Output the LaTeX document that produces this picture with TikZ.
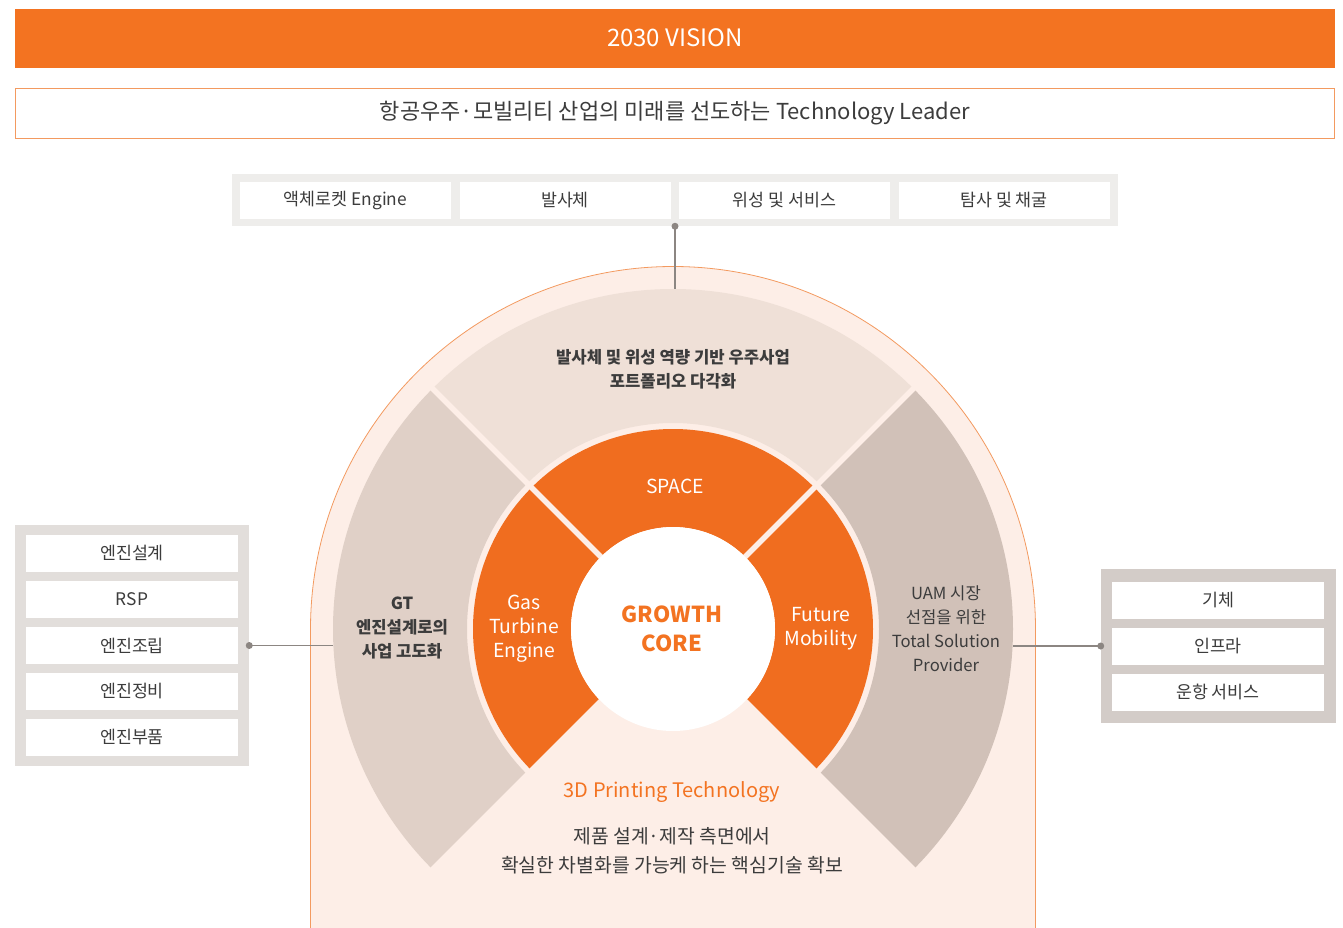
\documentclass[tikz,border=0pt]{standalone}
\usepackage{fontspec}
\setmainfont{Noto Sans CJK KR}
\usetikzlibrary{positioning}

\definecolor{visionorange}{HTML}{F37321}
\definecolor{ringorange}{HTML}{F06D1F}
\definecolor{archfill}{HTML}{FDEEE7}
\definecolor{archline}{HTML}{F39A60}
\definecolor{topbeige}{HTML}{EFE0D7}
\definecolor{leftbeige}{HTML}{E0D0C7}
\definecolor{rightbeige}{HTML}{D1C1B8}
\definecolor{boxgray}{HTML}{EEEDEB}
\definecolor{leftgray}{HTML}{E2DEDB}
\definecolor{rightgray}{HTML}{D3CCC8}
\definecolor{textgray}{HTML}{3C3C3C}
\definecolor{linkgray}{HTML}{8C8682}

\tikzset{
  cell/.style={fill=white, minimum width=159pt, minimum height=27.75pt, inner sep=0pt,
    text=textgray, font=\fontsize{13}{15}\selectfont},
  link/.style={draw=linkgray, line width=0.8pt},
  sectortext/.style={align=center, text=textgray, font=\fontsize{12.5}{18}\selectfont\bfseries},
  ringtext/.style={align=center, text=white, font=\fontsize{14.5}{18}\selectfont},
}

\begin{document}
\begin{tikzpicture}[x=0.75pt,y=-0.75pt]
 \useasboundingbox (0,0) rectangle (1343,928);

 % title bars
 \node[fill=visionorange, minimum width=990pt, minimum height=44.25pt, text=white,
   font=\fontsize{18}{22}\selectfont] (header) at (675,38) {2030 VISION};
 \node[draw=archline, line width=0.75pt, fill=white, minimum width=989pt, minimum height=37.5pt,
   text=textgray, font=\fontsize{16.5}{20}\selectfont] (leader) at (675,113.5)
   {항공우주·모빌리티 산업의 미래를 선도하는 Technology Leader};

 % arch
 \filldraw[fill=archfill, draw=archline, line width=0.6pt]
   (310.5,928) -- (310.5,629) arc[start angle=180, end angle=360, radius=362.5] -- (1035.5,928);

 \begin{scope}[shift={(673,629)}]
  \foreach \col/\from/\to in {topbeige/-135/-45, leftbeige/135/225, rightbeige/-45/45}
   \fill[\col] (\from:340) arc[start angle=\from, end angle=\to, radius=340]
     -- (\to:206) arc[start angle=\to, end angle=\from, radius=206] -- cycle;
  \foreach \from/\to in {-135/-45, 135/225, -45/45}
   \fill[ringorange] (\from:200) arc[start angle=\from, end angle=\to, radius=200]
     -- (\to:102) arc[start angle=\to, end angle=\from, radius=102] -- cycle;
  \foreach \angle in {45,135,225,315}
   \draw[archfill, line width=4pt] (\angle:100) -- (\angle:342);
  \fill[white] (0,0) circle[radius=102];
 \end{scope}

 % ring texts
 \node[sectortext] (spaceplan) at (673,369) {발사체 및 위성 역량 기반 우주사업\\포트폴리오 다각화};
 \node[sectortext] (gtplan) at (402,628) {GT\\엔진설계로의\\사업 고도화};
 \node[align=center, text=textgray, font=\fontsize{12.5}{18}\selectfont] (uamplan) at (946,628.5)
   {UAM 시장\\선점을 위한\\Total Solution\\Provider};
 \node[ringtext] (space) at (675,486) {SPACE};
 \node[ringtext] (gas) at (524,629) {Gas\\Turbine\\Engine};
 \node[ringtext] (future) at (821,629) {Future\\Mobility};
 \node[align=center, text=visionorange, font=\fontsize{16.5}{22}\selectfont\bfseries] (core) at (672,629)
   {GROWTH\\CORE};
 \node[text=visionorange, font=\fontsize{15}{18}\selectfont] (printing) at (672,792) {3D Printing Technology};
 \node[align=center, text=textgray, font=\fontsize{14.5}{22}\selectfont] (printplan) at (672,851)
   {제품 설계·제작 측면에서\\확실한 차별화를 가능케 하는 핵심기술 확보};

 % top box
 \node[fill=boxgray, minimum width=664.5pt, minimum height=39pt] (topbox) at (675,200) {};
 \foreach \name/\x/\label in {rocket/345.5/액체로켓 Engine, launcher/565/발사체,
   satellite/784.5/위성 및 서비스, explore/1004/탐사 및 채굴}
  \node[cell, minimum width=158.25pt] (\name) at (\x,200.5) {\label};

 % left box
 \node[fill=leftgray, minimum width=175.5pt, minimum height=180.75pt] (leftbox) at (132,645.5) {};
 \foreach \name/\y/\label in {design/553/엔진설계, rsp/599.5/RSP, assembly/645.5/엔진조립,
   mro/691.5/엔진정비, parts/737.5/엔진부품}
  \node[cell] (\name) at (132,\y) {\label};

 % right box
 \node[fill=rightgray, minimum width=176.25pt, minimum height=115.5pt] (rightbox) at (1218.5,646) {};
 \foreach \name/\y/\label in {airframe/600/기체, infra/646/인프라, service/692/운항 서비스}
  \node[cell] (\name) at (1218,\y) {\label};

 % connectors
 \coordinate (ringtop) at (675,289);
 \coordinate (ringleft) at (333,645.5);
 \coordinate (ringright) at (1013,646);
 \draw[link] (topbox.south) -- (ringtop);
 \draw[link] (leftbox.east) -- (ringleft);
 \draw[link] (rightbox.west) -- (ringright);
 \foreach \dot in {topbox.south, leftbox.east, rightbox.west}
  \fill[linkgray] (\dot) circle[radius=3.5];
\end{tikzpicture}
\end{document}
